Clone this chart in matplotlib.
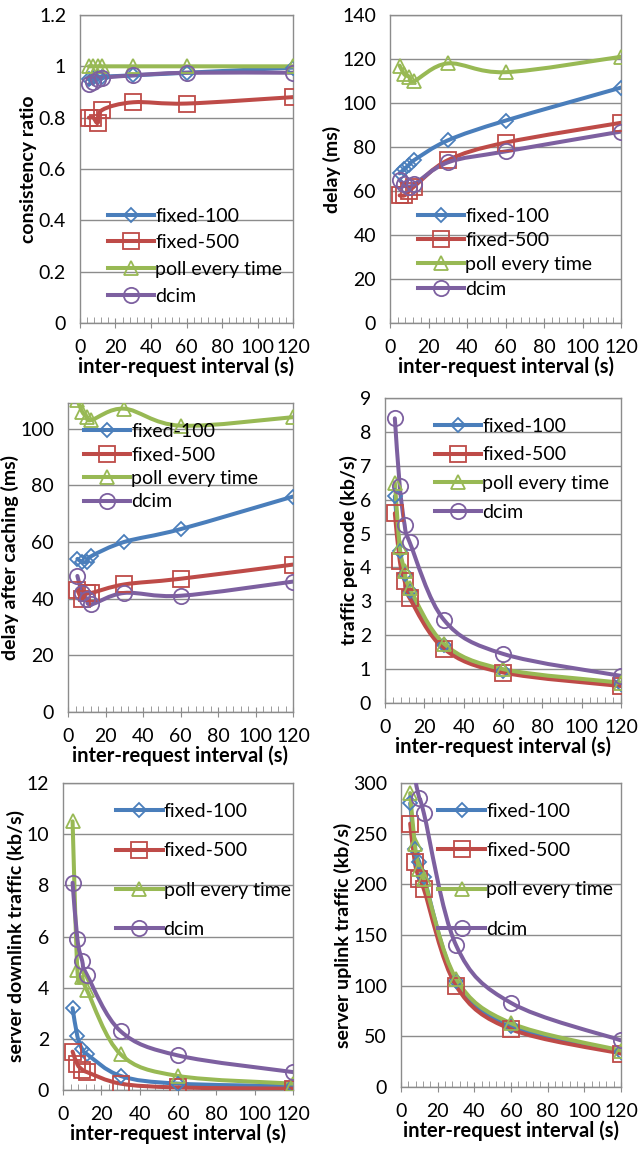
import matplotlib
matplotlib.use("Agg")
import matplotlib.pyplot as plt
import numpy as np
from matplotlib.path import Path
from matplotlib.patches import PathPatch
from matplotlib.lines import Line2D
from matplotlib.ticker import MultipleLocator, FormatStrFormatter

plt.rcParams['font.family'] = ['Lato', 'DejaVu Sans']

# ---------------- data ----------------
x = [5, 7.5, 10, 12.5, 30, 60, 120]
series_names = ["fixed-100", "fixed-500", "poll every time", "dcim"]

consistency_fixed100 = [0.95, 0.955, 0.96, 0.96, 0.965, 0.975, 0.995]
consistency_fixed500 = [0.80, 0.80, 0.78, 0.83, 0.86, 0.855, 0.88]
consistency_poll = [1.0, 1.0, 1.0, 1.0, 1.0, 1.0, 1.0]
consistency_dcim = [0.93, 0.94, 0.95, 0.955, 0.965, 0.975, 0.975]

delay_fixed100 = [68, 70, 72, 74, 83, 92, 107]
delay_fixed500 = [58, 58, 60, 62, 74, 82, 91]
delay_poll = [117, 113, 112, 110, 118, 114, 121]
delay_dcim = [65, 63, 62, 63, 73, 78, 87]

cached_fixed100 = [54, 53, 53, 55, 60, 64.5, 76]
cached_fixed500 = [43, 40, 42, 42, 45, 47, 52]
cached_poll = [110, 106, 104, 103, 107, 101, 104]
cached_dcim = [48, 42, 40, 38, 42, 41, 46]

node_fixed100 = [6.1, 4.5, 3.8, 3.3, 1.7, 0.95, 0.55]
node_fixed500 = [5.6, 4.2, 3.6, 3.1, 1.6, 0.9, 0.5]
node_poll = [6.5, 4.6, 3.9, 3.4, 1.75, 1.0, 0.6]
node_dcim = [8.4, 6.4, 5.25, 4.75, 2.45, 1.45, 0.8]

down_fixed100 = [3.2, 2.1, 1.6, 1.4, 0.55, 0.25, 0.15]
down_fixed500 = [1.5, 1.0, 0.8, 0.7, 0.25, 0.1, 0.05]
down_poll = [10.5, 4.7, 4.4, 3.9, 1.4, 0.55, 0.25]
down_dcim = [8.1, 5.9, 5.05, 4.5, 2.3, 1.35, 0.7]

up_fixed100 = [280, 235, 222, 207, 105, 60, 35]
up_fixed500 = [260, 222, 205, 195, 100, 57, 33]
up_poll = [290, 240, 215, 205, 107, 63, 36]
up_dcim = [380, 310, 285, 270, 140, 83, 46]

y_labels = ["consistency ratio", "delay (ms)", "delay after caching (ms)",
            "traffic per node (kb/s)", "server downlink traffic (kb/s)",
            "server uplink traffic (kb/s)"]
x_label = "inter-request interval (s)"

# ---------------- style ----------------
colors = ["#4A7EBB", "#BE4B48", "#98B954", "#7D60A0"]
markers = ["D", "s", "^", "o"]
msizes = [7.5, 11, 10, 11]

W, H = 638, 1153
fig = plt.figure(figsize=(W / 100, H / 100), dpi=100)


def px_axes(l, t, r, b):
    return fig.add_axes([l / W, 1 - b / H, (r - l) / W, (b - t) / H])


def smooth_path(xs, ys):
    xs = np.asarray(xs, float)
    ys = np.asarray(ys, float)
    n = len(xs)
    verts = [(xs[0], ys[0])]
    codes = [Path.MOVETO]
    for i in range(n - 1):
        i0 = max(i - 1, 0)
        i3 = min(i + 2, n - 1)
        c1 = (xs[i] + (xs[i + 1] - xs[i0]) / 6, ys[i] + (ys[i + 1] - ys[i0]) / 6)
        c2 = (xs[i + 1] - (xs[i3] - xs[i]) / 6, ys[i + 1] - (ys[i3] - ys[i]) / 6)
        verts += [c1, c2, (xs[i + 1], ys[i + 1])]
        codes += [Path.CURVE4] * 3
    return Path(verts, codes)


def panel(rect, data, ylim, ystep, yfmt, ylabel, leg_anchor, leg_spacing):
    ax = px_axes(*rect)
    ax.set_xlim(0, 120)
    ax.set_ylim(*ylim)
    ax.xaxis.set_major_locator(MultipleLocator(20))
    ax.xaxis.set_minor_locator(MultipleLocator(4))
    ax.yaxis.set_major_locator(MultipleLocator(ystep))
    ax.yaxis.set_major_formatter(FormatStrFormatter(yfmt))
    ax.grid(axis='y', color='#8C8C8C', lw=1.0)
    ax.set_axisbelow(True)
    for s in ax.spines.values():
        s.set_color('#8C8C8C')
        s.set_linewidth(1.0)
    ax.tick_params(axis='x', which='major', direction='inout', length=7,
                   color='#8C8C8C', labelsize=14, pad=8)
    ax.tick_params(axis='x', which='minor', direction='in', length=4, color='#8C8C8C')
    ax.tick_params(axis='y', length=0, labelsize=14, pad=10)
    handles = []
    for ys, c, m, ms, name in zip(data, colors, markers, msizes, series_names):
        p = PathPatch(smooth_path(x, ys), facecolor='none', edgecolor=c, lw=2.9,
                      capstyle='round', joinstyle='round', zorder=3)
        ax.add_patch(p)
        ax.plot(x, ys, ls='none', marker=m, ms=ms, mfc='none', mec=c, mew=1.3,
                zorder=4, clip_on=True)
        handles.append(Line2D([], [], color=c, lw=2.9, marker=m, ms=ms,
                              mfc='none', mec=c, mew=1.3))
    ax.set_ylabel(ylabel, fontsize=14, fontweight='bold', labelpad=1)
    ax.set_xlabel(x_label, fontsize=14.5, fontweight='bold', labelpad=0)
    ax.legend(handles, series_names, loc='upper left', bbox_to_anchor=leg_anchor,
              frameon=False, fontsize=14, handlelength=2.4, handletextpad=0.05,
              borderpad=0, borderaxespad=0, labelspacing=leg_spacing)
    return ax


panel((80, 15, 293, 323),
      [consistency_fixed100, consistency_fixed500, consistency_poll, consistency_dcim],
      (0, 1.2), 0.2, '%g', y_labels[0], (0.13, 0.375), 0.5)
panel((390, 15, 621, 323),
      [delay_fixed100, delay_fixed500, delay_poll, delay_dcim],
      (0, 140), 20, '%g', y_labels[1], (0.12, 0.375), 0.38)
panel((68, 403, 293, 712),
      [cached_fixed100, cached_fixed500, cached_poll, cached_dcim],
      (0, 109), 20, '%g', y_labels[2], (0.07, 0.935), 0.33)
panel((385, 398, 621, 703),
      [node_fixed100, node_fixed500, node_poll, node_dcim],
      (0, 9), 1, '%g', y_labels[3], (0.21, 0.935), 0.6)
panel((63, 783, 293, 1090),
      [down_fixed100, down_fixed500, down_poll, down_dcim],
      (0, 12), 2, '%g', y_labels[4], (0.23, 0.935), 1.15)
panel((401, 783, 621, 1087),
      [up_fixed100, up_fixed500, up_poll, up_dcim],
      (0, 300), 50, '%g', y_labels[5], (0.17, 0.935), 1.15)

fig.savefig("out.png", dpi=100)
